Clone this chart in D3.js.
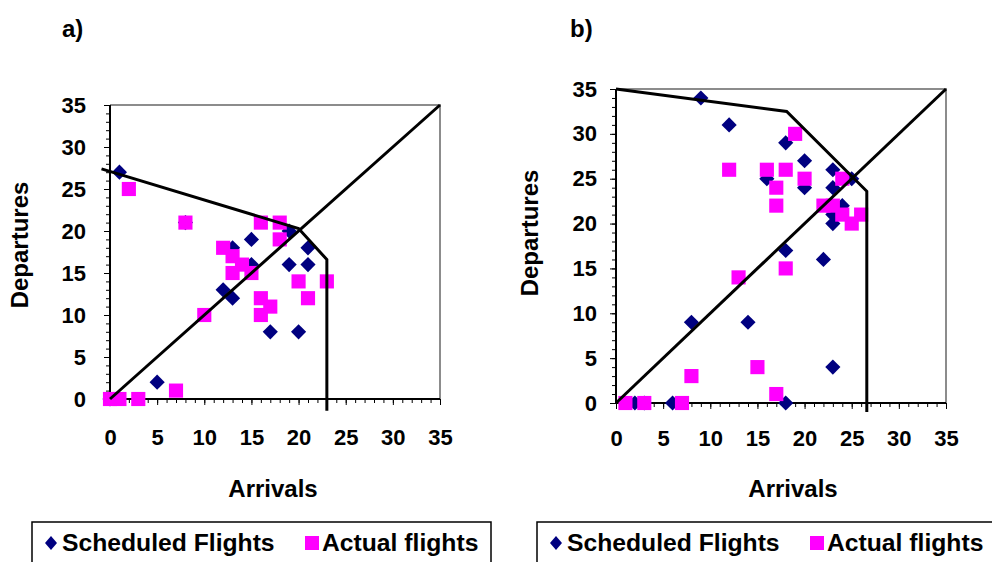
<!DOCTYPE html>
<html>
  <head>
    <meta charset="utf-8">
    <script src="https://d3js.org/d3.v7.min.js"></script>
    <title>Scheduled vs actual flights</title>
    <style>
      body {
        margin: 0;
        background: #fff;
        font-family: "Liberation Sans", Arial, sans-serif;
      }
      text {
        font-weight: bold;
        fill: #000;
      }
      .domain {
        display: none;
      }
      .tick text {
        font-size: 22px;
      }
    </style>
  </head>
  <body>
    <svg id="chart" width="992" height="562"></svg>
    <script>
      // axis ticks shared by both panels
      const majorTicks = [0, 5, 10, 15, 20, 25, 30, 35];
      const minorTicks = d3.range(0, 36);

      // panel a)
      const scheduledA = [[1, 27], [8, 21], [13, 18], [15, 19], [19, 20], [21, 18], [15, 16], [19, 16],
        [21, 16], [12, 13], [13, 12], [17, 8], [20, 8], [5, 2], [0, 0]];
      const actualA = [[2, 25], [8, 21], [16, 21], [18, 21], [18, 19], [12, 18], [13, 17], [14, 16],
        [13, 15], [15, 15], [20, 14], [23, 14], [16, 12], [17, 11], [16, 10], [21, 12], [10, 10],
        [7, 1], [3, 0], [0, 0], [1, 0]];
      const frontierA = [[-0.9, 27.4], [20, 20.3], [23, 16.6], [23, -1.4]];

      // panel b)
      const scheduledB = [[9, 34], [12, 31], [18, 29], [20, 27], [23, 26], [25, 25], [16, 25], [20, 24],
        [23, 24], [24, 22], [23, 21], [23, 20], [18, 17], [22, 16], [8, 9], [14, 9], [23, 4], [18, 0],
        [6, 0], [2, 0], [3, 0]];
      const actualB = [[19, 30], [12, 26], [16, 26], [18, 26], [20, 25], [24, 25], [17, 24], [17, 22],
        [22, 22], [23, 22], [24, 21], [26, 21], [25, 20], [18, 15], [13, 14], [15, 4], [8, 3], [17, 1],
        [7, 0], [3, 0], [1, 0]];
      const frontierB = [[0, 35], [18.1, 32.5], [26.6, 23.6], [26.6, -1]];

      const diagonal = [[0, 0], [35, 35]];

      const legendLabels = ['Scheduled Flights', 'Actual flights'];

      const svg = d3.select('#chart');

      const diamond = d3.symbol(d3.symbolSquare, 115);
      const square = d3.symbol(d3.symbolSquare, 200);

      function panel(p) {
        const x = d3.scaleLinear().domain([0, 35]).range([p.left, p.right]);
        const y = d3.scaleLinear().domain([0, 35]).range([p.bottom, p.top]);
        const g = svg.append('g');

        // grey plot border (top and right)
        g.append('path')
          .attr('d', `M${p.left},${p.top}H${p.right}V${p.bottom}`)
          .attr('fill', 'none')
          .attr('stroke', '#8c8c8c')
          .attr('stroke-width', 2);

        // minor ticks
        g.append('g')
          .attr('transform', `translate(0,${p.bottom})`)
          .call(d3.axisBottom(x).tickValues(minorTicks).tickSize(4).tickFormat(''));
        g.append('g')
          .attr('transform', `translate(${p.left},0)`)
          .call(d3.axisLeft(y).tickValues(minorTicks).tickSize(4).tickFormat(''));

        // major ticks with labels
        g.append('g')
          .attr('transform', `translate(0,${p.bottom})`)
          .call(d3.axisBottom(x).tickValues(majorTicks).tickSize(6).tickPadding(p.xPad));
        g.append('g')
          .attr('transform', `translate(${p.left},0)`)
          .call(d3.axisLeft(y).tickValues(majorTicks).tickSize(6).tickPadding(p.yPad));

        g.selectAll('.tick line').attr('stroke', '#000');

        // axis lines
        g.append('path')
          .attr('d', `M${p.left},${p.top}V${p.bottom}H${p.right}`)
          .attr('fill', 'none')
          .attr('stroke', '#000')
          .attr('stroke-width', 2);

        g.selectAll('.diamond').data(p.scheduled)
          .enter().append('path')
            .attr('class', 'diamond')
            .attr('d', diamond)
            .attr('transform', d => `translate(${x(d[0])},${y(d[1])}) rotate(45)`)
            .attr('fill', '#000080');

        g.selectAll('.square').data(p.actual)
          .enter().append('path')
            .attr('class', 'square')
            .attr('d', square)
            .attr('transform', d => `translate(${x(d[0])},${y(d[1])})`)
            .attr('fill', '#ff00ff');

        const line = d3.line().x(d => x(d[0])).y(d => y(d[1]));
        [diagonal, p.frontier].forEach(pts => {
          g.append('path')
            .attr('d', line(pts))
            .attr('fill', 'none')
            .attr('stroke', '#000')
            .attr('stroke-width', 3)
            .attr('stroke-linejoin', 'miter');
        });

        // titles
        g.append('text')
          .attr('x', p.labelX).attr('y', 37)
          .style('font-size', '24px')
          .text(p.label);

        g.append('text')
          .attr('x', p.xTitleX).attr('y', 497)
          .attr('text-anchor', 'middle')
          .style('font-size', '24px')
          .text('Arrivals');

        g.append('text')
          .attr('transform', `translate(${p.yTitleX},${p.yTitleY}) rotate(-90)`)
          .attr('text-anchor', 'middle')
          .style('font-size', '24px')
          .text('Departures');

        // legend
        const lg = g.append('g');
        lg.append('rect')
          .attr('x', p.legendX).attr('y', 522)
          .attr('width', p.legendW).attr('height', 60)
          .attr('fill', '#fff')
          .attr('stroke', '#000')
          .attr('stroke-width', 1.5);
        lg.append('path')
          .attr('d', 'M0,-7L6,0L0,7L-6,0Z')
          .attr('transform', `translate(${p.legendX + 19},543)`)
          .attr('fill', '#000080');
        lg.append('text')
          .attr('x', p.legendX + 30).attr('y', 551)
          .style('font-size', '24.7px')
          .text(legendLabels[0]);
        lg.append('rect')
          .attr('x', p.legendX + 273).attr('y', 536)
          .attr('width', 14).attr('height', 14)
          .attr('fill', '#ff00ff');
        lg.append('text')
          .attr('x', p.legendX + 290).attr('y', 551)
          .style('font-size', '24.7px')
          .text(legendLabels[1]);
      }

      panel({
        left: 110, right: 440, top: 105, bottom: 399,
        xPad: 24, yPad: 18,
        scheduled: scheduledA, actual: actualA, frontier: frontierA,
        label: 'a)', labelX: 62,
        xTitleX: 273, yTitleX: 28, yTitleY: 245,
        legendX: 32, legendW: 459
      });

      panel({
        left: 616, right: 946, top: 89, bottom: 403,
        xPad: 21, yPad: 13,
        scheduled: scheduledB, actual: actualB, frontier: frontierB,
        label: 'b)', labelX: 570,
        xTitleX: 793, yTitleX: 538, yTitleY: 233,
        legendX: 537, legendW: 470
      });
    </script>
  </body>
</html>
